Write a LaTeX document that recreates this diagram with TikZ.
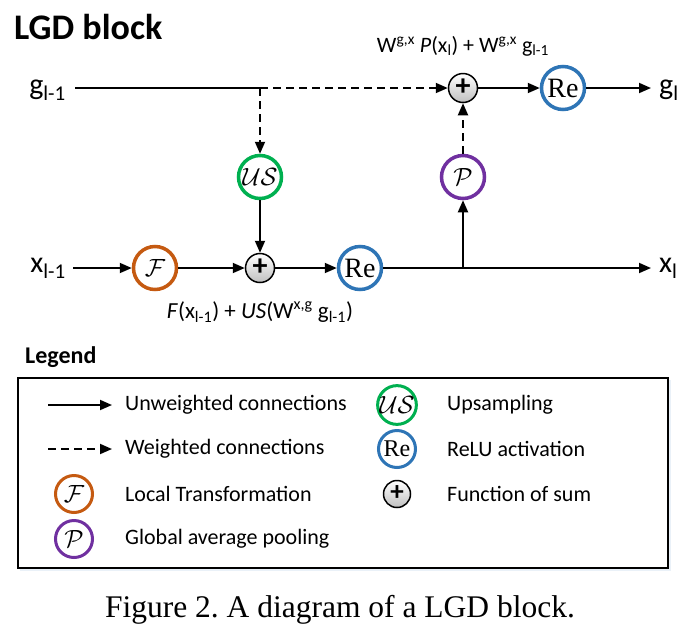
\documentclass[tikz,border=0pt]{standalone}
\usepackage{fontspec}
\setmainfont{Carlito}
\newfontfamily\timesfont{Liberation Serif}
\usetikzlibrary{arrows.meta}
\definecolor{corange}{RGB}{197,90,17}
\definecolor{cgreen}{RGB}{0,176,80}
\definecolor{cblue}{RGB}{46,117,182}
\definecolor{cpurple}{RGB}{112,48,160}
\newcommand{\fs}[1]{\fontsize{#1}{#1}\selectfont}
\frenchspacing
\begin{document}
\begin{tikzpicture}[x=1pt,y=-1pt,
  conn/.style={line width=1.8pt,-{Triangle[length=12pt,width=10pt]}},
  wconn/.style={conn,dash pattern=on 8pt off 5pt},
  opc/.style={circle,draw=#1,line width=3.5pt,minimum size=43pt,inner sep=0pt,fill=white},
  lopc/.style={circle,draw=#1,line width=3pt,minimum size=37pt,inner sep=0pt,fill=white},
  sumc/.style={circle,draw=black,line width=1.5pt,minimum size=29pt,inner sep=0pt,top color=white,bottom color=black!25,font=\fs{30}\bfseries},
  lsumc/.style={sumc,minimum size=27pt,font=\fs{27}\bfseries},
  lbl/.style={font=\fs{30},inner sep=0pt},
  ltxt/.style={font=\fs{22},anchor=west,inner sep=0pt}]
\useasboundingbox (0,0) rectangle (691,638);

\node[anchor=west,font=\fs{36}\bfseries,inner sep=0pt] (title) at (14,27) {LGD block};

% main graph
\node[lbl,anchor=east] (gin) at (66,90) {g\textsubscript{l-1}};
\node[lbl,anchor=east] (xin) at (66,268) {x\textsubscript{l-1}};
\node[lbl,anchor=west] (gout) at (659,90) {g\textsubscript{l}};
\node[lbl,anchor=west] (xout) at (659,268) {x\textsubscript{l}};

\coordinate (gstart) at (75,88);
\coordinate (xstart) at (73,268);
\coordinate (gend) at (651,88);
\coordinate (xend) at (651,268);
\coordinate (j1) at (260,88);
\coordinate (j2) at (463,268);
\node[sumc] (plusT) at (463,88) {\raisebox{1pt}{+}};
\node[opc=cblue,font=\fs{28}\timesfont] (ReT) at (563,88) {Re};
\node[opc=cgreen,font=\fs{27}] (US) at (260,177) {$\mathcal{US}$};
\node[opc=cpurple,font=\fs{28}] (P) at (463,177) {$\mathcal{P}$};
\node[opc=corange,font=\fs{28}] (F) at (155,268) {$\mathcal{F}$};
\node[sumc] (plusB) at (260,268) {\raisebox{1pt}{+}};
\node[opc=cblue,font=\fs{28}\timesfont] (ReB) at (360,268) {Re};

\node[font=\fs{22},inner sep=0pt] (ftop) at (463,46) {W\textsuperscript{g,x} \textit{P}(x\textsubscript{l}) + W\textsuperscript{g,x} g\textsubscript{l-1}};
\node[font=\fs{23},inner sep=0pt] (fbot) at (260,312) {\textit{F}(x\textsubscript{l-1}) + \textit{US}(W\textsuperscript{x,g} g\textsubscript{l-1})};

\draw[line width=1.8pt] (gstart) -- (j1);
\draw[wconn] (j1) -- (plusT);
\draw[wconn] (j1) -- (US);
\draw[conn] (US) -- (plusB);
\draw[conn] (xstart) -- (F);
\draw[conn] (F) -- (plusB);
\draw[conn] (plusB) -- (ReB);
\draw[conn] (ReB) -- (xend);
\draw[conn] (j2) -- (P);
\draw[wconn] (P) -- (plusT);
\draw[conn] (plusT) -- (ReT);
\draw[conn] (ReT) -- (gend);

% legend
\node[anchor=west,font=\fs{24}\bfseries,inner sep=0pt] (legtitle) at (25,357) {Legend};
\fill[cblue!10] (20,380) rectangle (671,571);
\draw[line width=1.5pt,fill=white] (18,378) rectangle (668,568);

\coordinate (la1s) at (48,405);
\coordinate (la1e) at (112,405);
\coordinate (la2s) at (48,449);
\coordinate (la2e) at (112,449);
\draw[conn] (la1s) -- (la1e);
\draw[wconn] (la2s) -- (la2e);
\node[ltxt] (t1) at (125,405) {Unweighted connections};
\node[ltxt] (t2) at (125,449) {Weighted connections};
\node[lopc=corange,font=\fs{24}] (lF) at (74,494) {$\mathcal{F}$};
\node[ltxt] (t3) at (125,494) {Local Transformation};
\node[lopc=cpurple,font=\fs{24}] (lP) at (74,539) {$\mathcal{P}$};
\node[ltxt] (t4) at (125,539) {Global average pooling};
\node[lopc=cgreen,font=\fs{23}] (lUS) at (397,405) {$\mathcal{US}$};
\node[ltxt] (t5) at (447,405) {Upsampling};
\node[lopc=cblue,font=\fs{24}\timesfont] (lRe) at (397,449) {Re};
\node[ltxt] (t6) at (447,449) {ReLU activation};
\node[lsumc] (lplus) at (397,494) {\raisebox{1pt}{+}};
\node[ltxt] (t7) at (447,494) {Function of sum};

\node[font=\fs{31.5}\timesfont,inner sep=0pt] (cap) at (340,610) {Figure 2. A diagram of a LGD block.};
\end{tikzpicture}
\end{document}
